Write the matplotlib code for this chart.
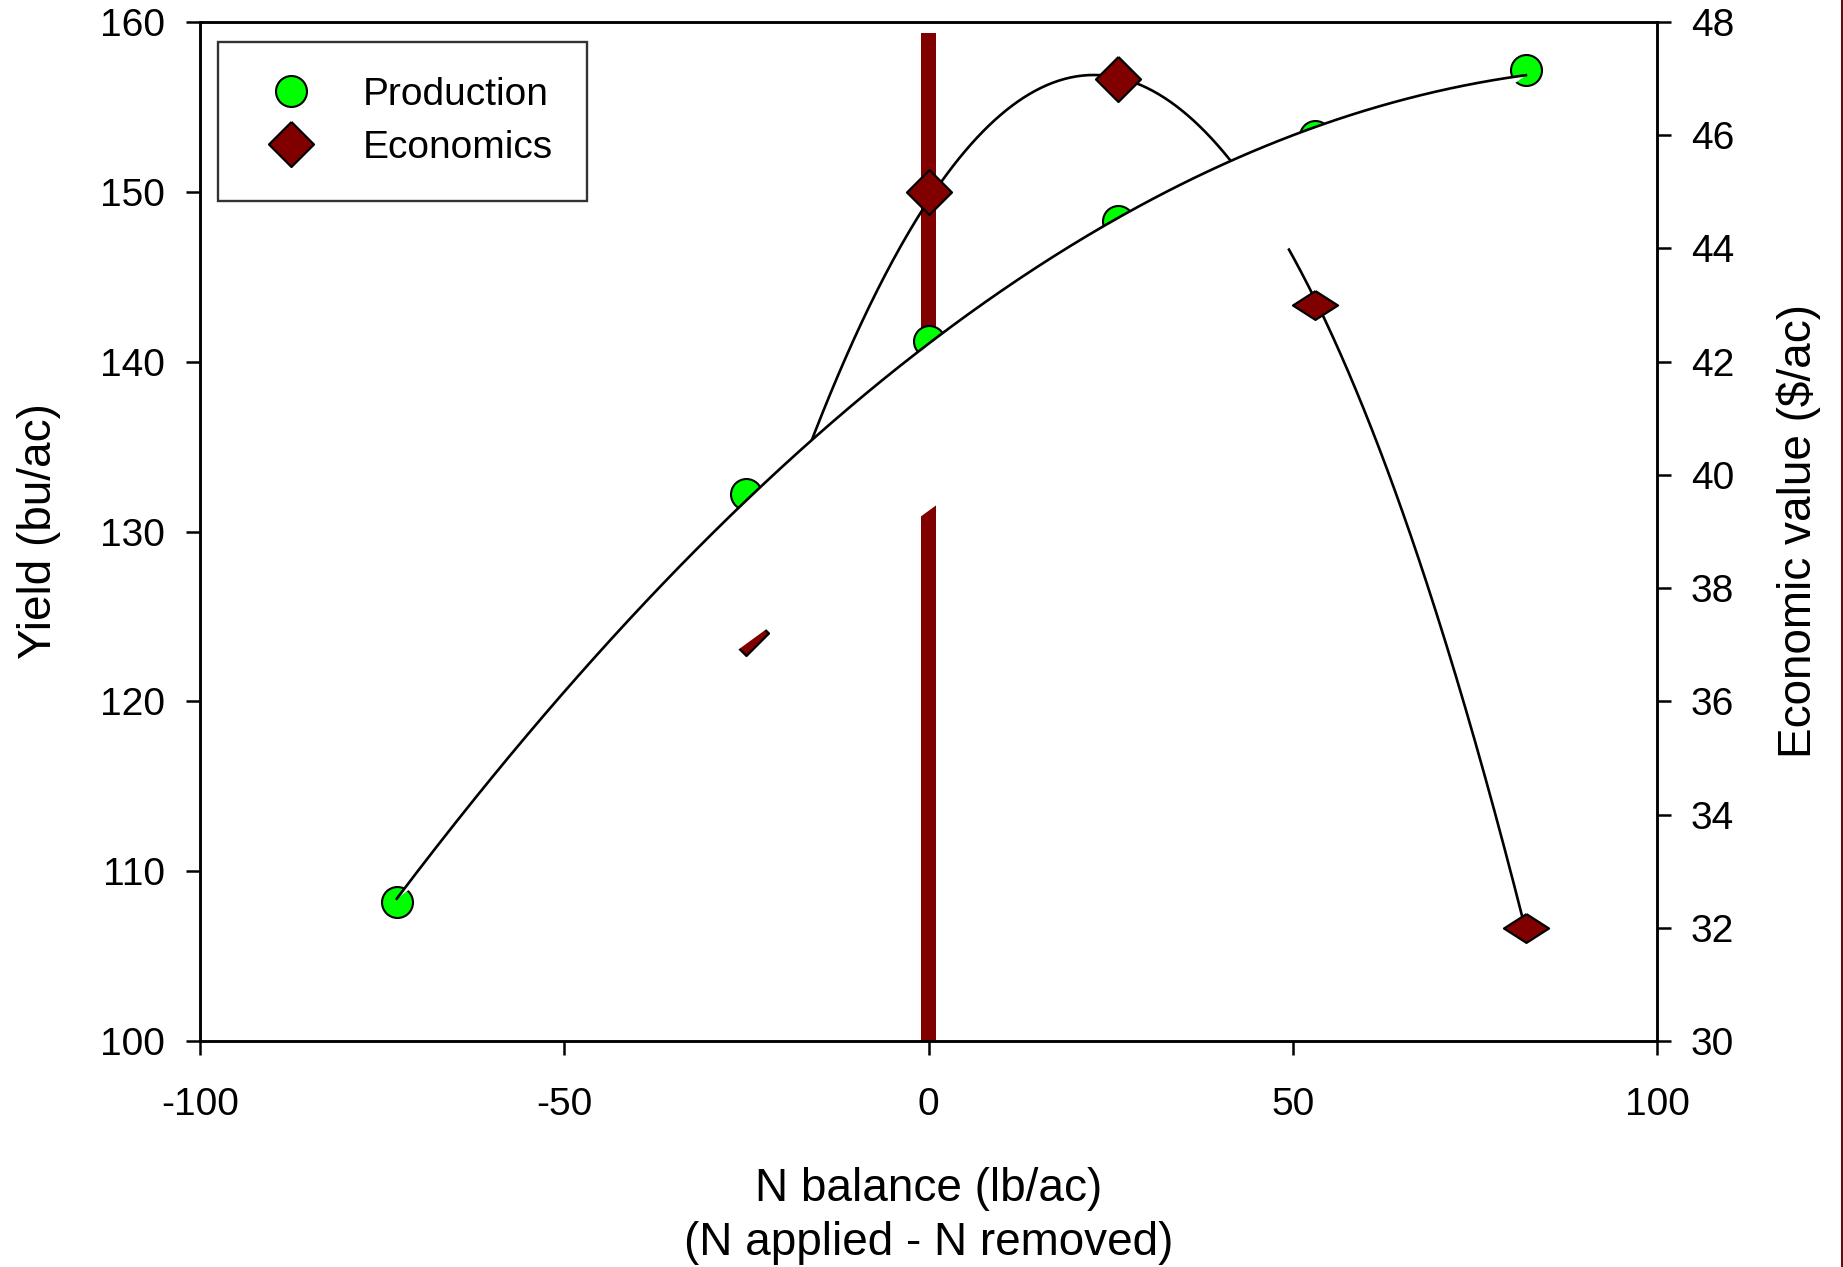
import numpy as np
import matplotlib
matplotlib.use("Agg")
import matplotlib.pyplot as plt
from matplotlib.lines import Line2D

plt.rcParams['font.family'] = ['Liberation Sans', 'DejaVu Sans']
plt.rcParams['axes.unicode_minus'] = False

# ---------------- data ----------------
n_balance_prod = [-73, -25, 0, 26, 53, 82]
yield_bu = [108.2, 132.2, 141.2, 148.3, 153.3, 157.2]

n_balance_econ = [-25, 0, 26, 53, 82]
econ_value = [37.2, 45.0, 47.0, 43.0, 32.0]

zero_bar_x = [0]
zero_bar_top = [47.8]      # $/ac
econ_axis_bottom = 30

x_ticks = [-100, -50, 0, 50, 100]
yield_ticks = [100, 110, 120, 130, 140, 150, 160]
econ_ticks = [30, 32, 34, 36, 38, 40, 42, 44, 46, 48]
series_labels = ['Production', 'Economics']

# ---------------- style ----------------
GREEN = '#00ff00'
MAROON = '#800000'
FS_TICK = 28
FS_LABEL = 33
diamond = [(0, 1), (1, 0), (0, -1), (-1, 0), (0, 1)]
flat_diamond = [(0, 0.64), (1, 0), (0, -0.64), (-1, 0), (0, 0.64)]
econ_shapes = [diamond, diamond, diamond, flat_diamond, flat_diamond]

W, H = 1843, 1267
fig = plt.figure(figsize=(W / 100, H / 100), dpi=100)
ax = fig.add_axes([200 / W, 1 - 1041 / H, 1457 / W, 1019 / H])
ax2 = ax.twinx()
ax.yaxis.tick_right()
ax.yaxis.set_label_position('right')
ax2.yaxis.tick_left()
ax2.yaxis.set_label_position('left')

# ----- economics (lower layer) -----
ax.bar(zero_bar_x, np.array(zero_bar_top) - econ_axis_bottom, bottom=econ_axis_bottom,
       width=2.0, color=MAROON, zorder=1)
xe = np.linspace(min(n_balance_econ), max(n_balance_econ), 400)
ce = np.polyfit(n_balance_econ, econ_value, 2)
ax.plot(xe, np.polyval(ce, xe), color='black', lw=1.9, zorder=2)
for xv, yv, shp in zip(n_balance_econ, econ_value, econ_shapes):
    ax.plot([xv], [yv], ls='none', marker=shp, ms=32.4, mfc=MAROON, mec='black',
            mew=1.6, zorder=3)

# ----- production (upper layer) -----
xp = np.linspace(min(n_balance_prod), max(n_balance_prod), 400)
cp = np.polyfit(n_balance_prod, yield_bu, 2)
yp = np.polyval(cp, xp)
ax2.plot(n_balance_prod, yield_bu, ls='none', marker='o', ms=22.3, mfc=GREEN,
         mec='black', mew=1.5, zorder=2)
ax2.fill(xp, yp, facecolor='white', edgecolor='none', zorder=3)
ax2.plot(xp, yp, color='black', lw=1.9, zorder=4)

# ----- axes -----
ax.set_xlim(-100, 100)
ax.set_ylim(30, 48)
ax2.set_ylim(100, 160)
ax.set_xticks(x_ticks)
ax.set_xticklabels([str(t) for t in x_ticks])
ax.set_yticks(econ_ticks)
ax2.set_yticks(yield_ticks)

for a in (ax, ax2):
    for s in a.spines.values():
        s.set_linewidth(1.8)
ax.tick_params(axis='x', which='both', direction='out', length=10, width=1.8,
               labelsize=FS_TICK, pad=23, top=False)
ax.tick_params(axis='y', direction='out', length=10, width=1.8,
               labelsize=FS_TICK, pad=14.5, left=False, right=True)
ax2.tick_params(axis='y', direction='out', length=10, width=1.8,
                labelsize=FS_TICK, pad=15, left=True, right=False)

ax.set_xlabel('N balance (lb/ac)\n(N applied - N removed)', fontsize=FS_LABEL,
              labelpad=32, linespacing=1.28)
ax2.set_ylabel('Yield (bu/ac)', fontsize=FS_LABEL, labelpad=28)
ax.set_ylabel('Economic value ($/ac)', fontsize=FS_LABEL, labelpad=30)

handles = [
    Line2D([], [], ls='none', marker='o', ms=22.3, mfc=GREEN, mec='black', mew=1.5),
    Line2D([], [], ls='none', marker=diamond, ms=32.4, mfc=MAROON, mec='black', mew=1.6),
]
leg = ax2.legend(handles, series_labels, loc='upper left',
                 bbox_to_anchor=(18 / 1457, 1 - 20 / 1019), borderaxespad=0,
                 fontsize=FS_TICK, frameon=True, fancybox=False, numpoints=1,
                 borderpad=0.89, labelspacing=0.45, handlelength=1.97,
                 handletextpad=0.86)
leg.get_frame().set_edgecolor('black')
leg.get_frame().set_linewidth(1.7)
leg.set_zorder(10)

fig.add_artist(Line2D([1 - 1 / W, 1 - 1 / W], [0, 1], transform=fig.transFigure,
                      color='#5c1010', lw=1.5))

fig.savefig('out.png', dpi=100)
